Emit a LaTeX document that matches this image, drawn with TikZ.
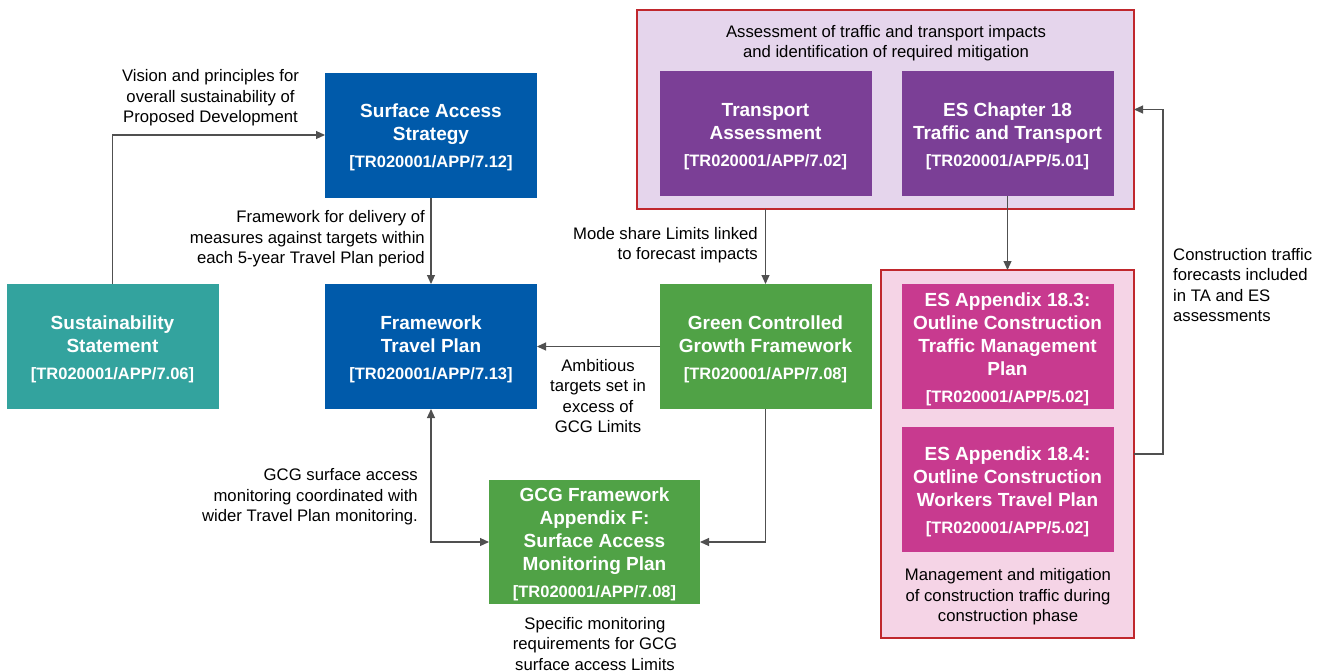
\documentclass[tikz,border=0pt]{standalone}
\usepackage{fontspec}
\setmainfont{Liberation Sans}
\usetikzlibrary{arrows.meta}
\definecolor{cblue}{RGB}{0,90,170}
\definecolor{cteal}{RGB}{51,163,158}
\definecolor{cgreen}{RGB}{80,162,70}
\definecolor{cpurple}{RGB}{123,63,150}
\definecolor{cmagenta}{RGB}{200,58,143}
\definecolor{clpurple}{RGB}{229,213,236}
\definecolor{clpink}{RGB}{245,212,230}
\definecolor{cred}{RGB}{192,39,45}
\definecolor{cline}{RGB}{80,80,80}
\newcommand{\codesz}{\fontsize{16.5}{23}\selectfont}
\newcommand{\tstrut}{\rule{0pt}{19pt}}
\begin{document}
\begin{tikzpicture}[x=1pt,y=-1pt,
  box/.style={rectangle, inner sep=0pt, outer sep=0pt, minimum width=212pt, minimum height=125pt,
    text=white, align=center, font=\bfseries\fontsize{19}{23}\selectfont},
  group/.style={rectangle, inner sep=0pt, outer sep=0pt, draw=cred, line width=1.6pt},
  conn/.style={draw=cline, line width=1.1pt, -{Triangle[length=9pt,width=8pt]}},
  conn2/.style={draw=cline, line width=1.1pt, {Triangle[length=9pt,width=8pt]}-{Triangle[length=9pt,width=8pt]}},
  lbl/.style={inner sep=0pt, font=\fontsize{16.7}{20.5}\selectfont, text=black}]
\useasboundingbox (0,0) rectangle (1328,672);
\fill[white] (0,0) rectangle (1328,672);

% groups
\node[group, fill=clpurple, minimum width=497pt, minimum height=199pt] (outer1) at (885.5,109.5) {};
\node[group, fill=clpink, minimum width=253pt, minimum height=368pt] (outer2) at (1007.5,454) {};

% boxes
\node[box, fill=cblue] (sas) at (431,135) {\tstrut Surface Access\\Strategy\\[4pt]{\codesz [TR020001/APP/7.12]}};
\node[box, fill=cblue] (ftp) at (431,346.5) {\tstrut Framework\\Travel Plan\\[4pt]{\codesz [TR020001/APP/7.13]}};
\node[box, fill=cteal] (sus) at (112.5,346.5) {\tstrut Sustainability\\Statement\\[4pt]{\codesz [TR020001/APP/7.06]}};
\node[box, fill=cgreen] (gcg) at (765.5,346.5) {\tstrut Green Controlled\\Growth Framework\\[4pt]{\codesz [TR020001/APP/7.08]}};
\node[box, fill=cgreen, minimum width=211pt, minimum height=124pt] (appf) at (594.5,542) {\tstrut GCG Framework\\Appendix F:\\Surface Access\\Monitoring Plan\\[4pt]{\codesz [TR020001/APP/7.08]}};
\node[box, fill=cpurple] (ta) at (765.5,133.5) {\tstrut Transport\\Assessment\\[4pt]{\codesz [TR020001/APP/7.02]}};
\node[box, fill=cpurple] (es18) at (1007.5,133.5) {\tstrut ES Chapter 18\\Traffic and Transport\\[4pt]{\codesz [TR020001/APP/5.01]}};
\node[box, fill=cmagenta] (a183) at (1007.5,346.5) {\tstrut ES Appendix 18.3:\\Outline Construction\\Traffic Management\\Plan\\[4pt]{\codesz [TR020001/APP/5.02]}};
\node[box, fill=cmagenta] (a184) at (1007.5,489.5) {\tstrut ES Appendix 18.4:\\Outline Construction\\Workers Travel Plan\\[4pt]{\codesz [TR020001/APP/5.02]}};

% connectors
\draw[conn] (sus.north) |- (sas.west);
\draw[conn] (sas.south) -- (ftp.north);
\draw[conn] (gcg.west) -- (ftp.east);
\draw[conn] (gcg.north |- outer1.south) -- (gcg.north);
\draw[conn] (es18.south) -- (outer2.north);
\draw[conn] (outer2.east) -- ++(29,0) |- (outer1.east);
\draw[conn2] (ftp.south) |- (appf.west);
\draw[conn] (gcg.south) |- (appf.east);

% labels
\node[lbl, align=center] (l1) at (210.5,98) {Vision and principles for\\overall sustainability of\\Proposed Development};
\node[lbl, align=right, anchor=east] (l2) at (425,239) {Framework for delivery of\\measures against targets within\\each 5-year Travel Plan period};
\node[lbl, align=right, anchor=east] (l3) at (758,245) {Mode share Limits linked\\to forecast impacts};
\node[lbl, align=center] (l4) at (598,396) {Ambitious\\targets set in\\excess of\\GCG Limits};
\node[lbl, align=right, anchor=east] (l5) at (418,497) {GCG surface access\\monitoring coordinated with\\wider Travel Plan monitoring.};
\node[lbl, align=center] (l6) at (595,644) {Specific monitoring\\requirements for GCG\\surface access Limits};
\node[lbl, align=left, anchor=west] (l7) at (1173,285) {Construction traffic\\forecasts included\\in TA and ES\\assessments};
\node[lbl, align=center] (l8) at (886,43) {Assessment of traffic and transport impacts\\and identification of required mitigation};
\node[lbl, align=center] (l9) at (1008,597) {Management and mitigation\\of construction traffic during\\construction phase};
\end{tikzpicture}
\end{document}
